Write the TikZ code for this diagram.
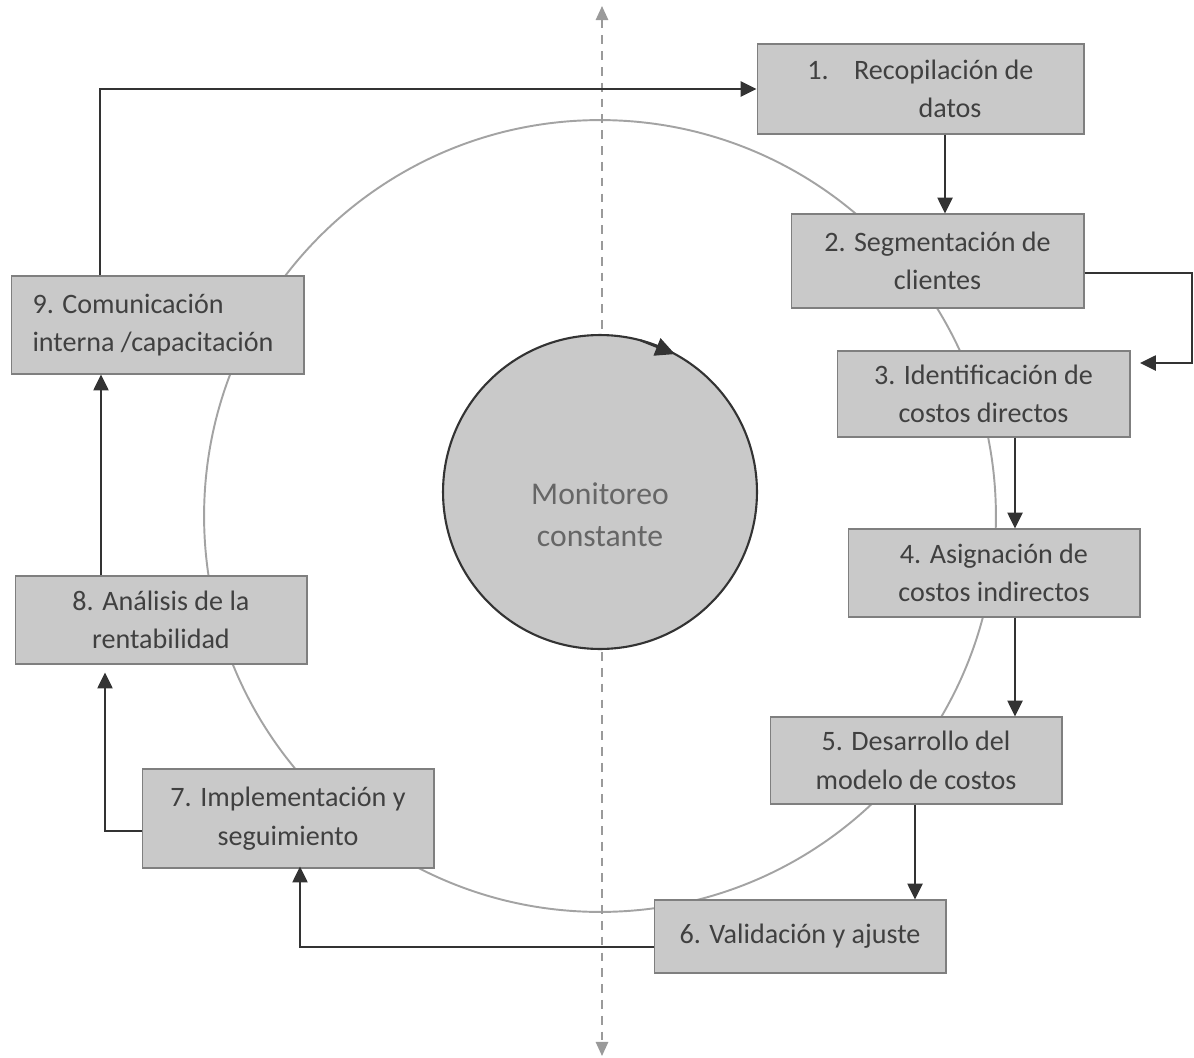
\documentclass[tikz,border=0pt]{standalone}
\usepackage{fontspec}
\setmainfont{Carlito}
\usetikzlibrary{arrows.meta}

\definecolor{boxgray}{HTML}{C9C9C9}
\definecolor{boxedge}{HTML}{7F7F7F}
\definecolor{txtgray}{HTML}{404040}
\definecolor{linkgray}{HTML}{333333}
\definecolor{ringgray}{HTML}{A3A3A3}
\definecolor{axisgray}{HTML}{9A9A9A}

\begin{document}
\begin{tikzpicture}[x=0.02cm, y=-0.02cm,
    stepbox/.style={draw=boxedge, line width=0.6pt, fill=boxgray, text=txtgray,
        font=\fontsize{16}{22}\selectfont, align=center, inner sep=0pt},
    link/.style={draw=linkgray, line width=1.3pt, -{Triangle[length=9pt,width=8.5pt]}}]

    % Fix the page size
    \useasboundingbox (0,0) rectangle (1194,1058);

    % Draw the outer ring
    \draw[ringgray, line width=1.1pt] (600,516) circle[radius=7.92cm];

    % Draw the dashed axis
    \coordinate (axtop) at (602,6);
    \coordinate (axbot) at (602,1056);
    \draw[axisgray, line width=1.1pt, dash pattern=on 5pt off 4pt,
        {Triangle[length=8pt,width=7pt]}-{Triangle[length=8pt,width=7pt]}] (axtop) -- (axbot);

    % Draw the monitoring circle
    \node[circle, draw=linkgray, line width=1.2pt, fill=boxgray, minimum size=6.28cm] (mon) at (600,492) {};
    \node[text=txtgray!80, font=\fontsize{18}{24}\selectfont, align=center] (montxt) at (600,515)
        {Monitoreo\\constante};
    \draw[draw=linkgray, line width=1.2pt, -{Triangle[length=11pt,width=10.5pt]}]
        ([shift={(75:3.14cm)}]mon.center) -- ([shift={(61.5:3.14cm)}]mon.center);

    % Draw the steps
    \node[stepbox, minimum width=6.54cm, minimum height=1.8cm] (s1) at (920.5,89)
        {1.\hspace{0.9em}Recopilación de\\\hspace*{2.1em}datos};
    \node[stepbox, minimum width=5.86cm, minimum height=1.88cm] (s2) at (937.5,261)
        {2. Segmentación de\\clientes};
    \node[stepbox, minimum width=5.86cm, minimum height=1.72cm] (s3) at (983.5,394)
        {3. Identificación de\\costos directos};
    \node[stepbox, minimum width=5.84cm, minimum height=1.76cm] (s4) at (994,573)
        {4. Asignación de\\costos indirectos};
    \node[stepbox, minimum width=5.84cm, minimum height=1.74cm] (s5) at (916,760.5)
        {5. Desarrollo del\\modelo de costos};
    \node[stepbox, minimum width=5.84cm, minimum height=1.46cm] (s6) at (800,936.5)
        {6. Validación y ajuste};
    \node[stepbox, minimum width=5.84cm, minimum height=1.98cm] (s7) at (288,818.5)
        {7. Implementación y\\seguimiento};
    \node[stepbox, minimum width=5.84cm, minimum height=1.76cm] (s8) at (161,620)
        {8. Análisis de la\\rentabilidad};
    \node[stepbox, minimum width=5.86cm, minimum height=1.96cm, align=flush left, text width=5.0cm] (s9) at (157.5,325)
        {9. Comunicación\\interna /capacitación};

    % Connect the steps
    \draw[link] (s9.north -| 100,0) |- (s1.west);
    \draw[link] (s1.south -| 945,0) -- (s2.north -| 945,0);
    \draw[link] (s2.east |- 0,273) -- (1192,273) |- (1140,363);
    \draw[link] (s3.south -| 1015,0) -- (s4.north -| 1015,0);
    \draw[link] (s4.south -| 1015,0) -- (s5.north -| 1015,0);
    \draw[link] (s5.south -| 915,0) -- (s6.north -| 915,0);
    \draw[link] (s6.west |- 0,947) -| ([yshift=0.04cm]s7.south -| 300,0);
    \draw[link, shorten >=0.16cm] (s7.west |- 0,831) -| (s8.south -| 105,0);
    \draw[link] (s8.north -| 101,0) -- (s9.south -| 101,0);
\end{tikzpicture}
\end{document}
